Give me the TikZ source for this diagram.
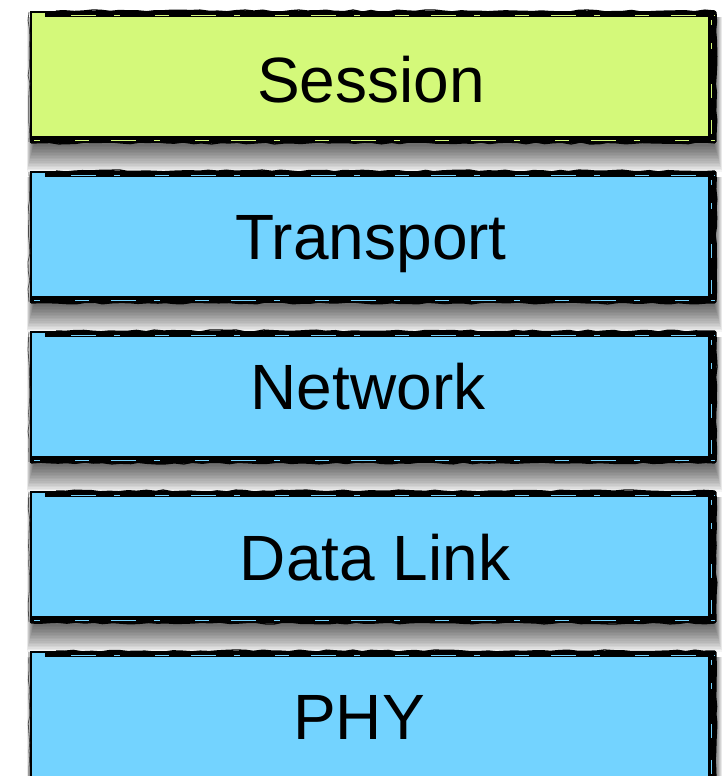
\documentclass[tikz,border=0pt]{standalone}
\usepackage{fontspec}
\setmainfont{Liberation Sans}
\usetikzlibrary{decorations.pathmorphing}
\definecolor{sessgreen}{RGB}{212,249,122}
\definecolor{layerblue}{RGB}{115,211,255}
\begin{document}
\begin{tikzpicture}[x=1pt,y=1pt,
  layerbox/.style={minimum width=684pt, minimum height=130pt, inner sep=0pt, outer sep=0pt, draw=black, line width=2.5pt},
  layertext/.style={anchor=base, font=\fontsize{64}{70}\selectfont, inner sep=0pt},
  thickedge/.style={draw=black, line cap=butt},
  rough/.style={draw=black, line width=1.3pt, decorate, decoration={random steps, segment length=9pt, amplitude=1pt}},
  streak/.style={line width=0.8pt, dash pattern=on 25pt off 18pt on 6pt off 35pt on 14pt off 22pt}]
\pgfmathsetseed{7}
\useasboundingbox (0,0) rectangle (722,776);
\clip (0,0) rectangle (722,776);
\fill[white] (0,0) rectangle (722,776);
% drop shadows
\foreach \cy in {699,539,379,219,59}{
  \foreach \i in {1,...,18}{
    \fill[black, opacity=0.042] (34-0.4*\i, \cy-65-2-1.55*\i) rectangle (714+0.45*\i, \cy+60);
  }
}
% layer boxes
\node[layerbox, fill=sessgreen] (session) at (373,699) {};
\node[layerbox, fill=layerblue] (transport) at (373,539) {};
\node[layerbox, fill=layerblue] (network) at (373,379) {};
\node[layerbox, fill=layerblue] (datalink) at (373,219) {};
\node[layerbox, fill=layerblue] (phy) at (373,59) {};
% sketchy borders
\foreach \n/\c in {session/sessgreen, transport/layerblue, network/layerblue, datalink/layerblue, phy/layerblue}{
  \draw[thickedge, line width=6pt] ([xshift=14pt,yshift=-2pt]\n.north west) -- ([yshift=-2pt]\n.north east);
  \draw[thickedge, line width=7pt] ([xshift=-4pt,yshift=-1pt]\n.north east) -- ([xshift=-4pt]\n.south east);
  \draw[thickedge, line width=6pt] ([yshift=3pt]\n.south west) -- ([yshift=3pt]\n.south east);
  \draw[rough] ([xshift=25pt,yshift=1pt]\n.north west) -- ([yshift=1pt]\n.north east);
  \draw[rough] ([xshift=1pt]\n.north east) -- ([xshift=1pt]\n.south east);
  \draw[rough] ([yshift=-1pt]\n.south west) -- ([yshift=-1pt]\n.south east);
  \draw[rough, line width=0.8pt, black!70] ([xshift=-2pt]\n.north west) -- ([xshift=-2pt]\n.south west);
  \draw[streak, \c] ([xshift=40pt,yshift=-3pt]\n.north west) -- ([yshift=-3pt]\n.north east);
  \draw[streak, \c, dash phase=20pt] ([xshift=-4pt,yshift=-8pt]\n.north east) -- ([xshift=-4pt,yshift=8pt]\n.south east);
  \draw[streak, \c, dash phase=40pt] ([yshift=2pt]\n.south west) -- ([yshift=2pt]\n.south east);
}
% labels
\node[layertext] (sessiontext) at (371,673) {Session};
\node[layertext] (transporttext) at (371,516) {Transport};
\node[layertext] (networktext) at (368,366) {Network};
\node[layertext] (datalinktext) at (375,195) {Data Link};
\node[layertext] (phytext) at (359,36) {PHY};
\end{tikzpicture}
\end{document}
